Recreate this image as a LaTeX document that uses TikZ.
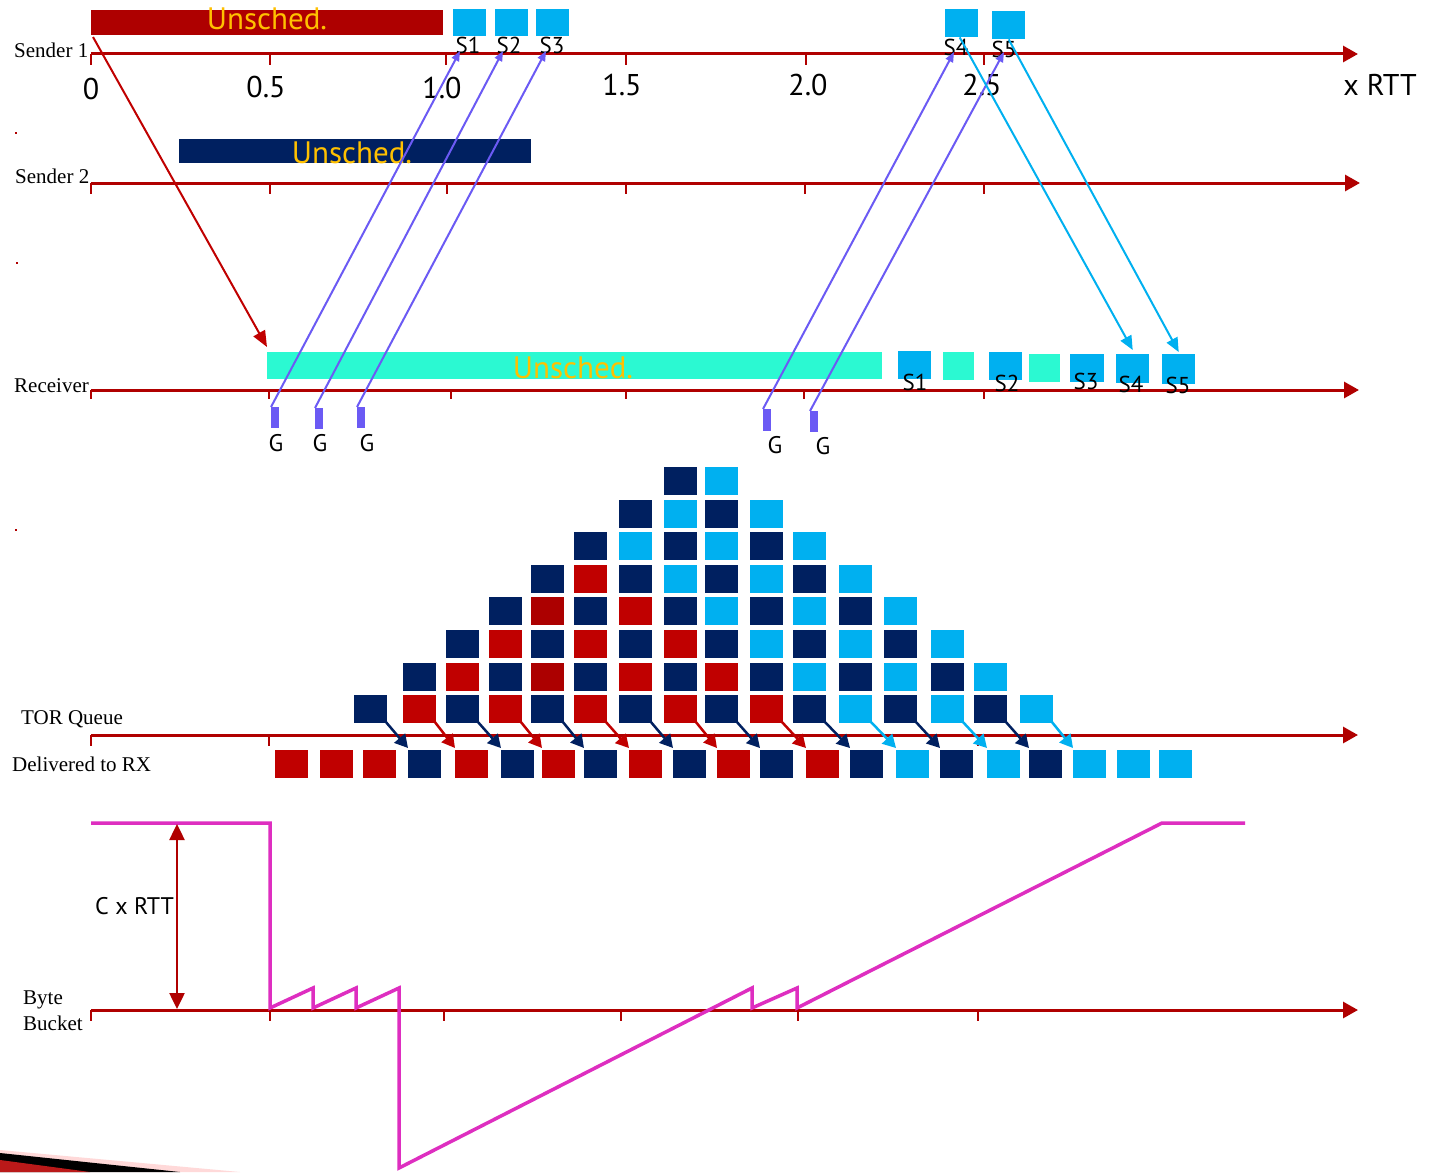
\documentclass[tikz,border=0pt]{standalone}
\usepackage{fontspec}
\setmainfont{Liberation Serif}
\newfontfamily\ptsans{PT Sans}
\usetikzlibrary{arrows.meta}
\definecolor{axred}{HTML}{B00000}
\definecolor{barred}{HTML}{AE0000}
\definecolor{cN}{HTML}{002060}
\definecolor{cR}{HTML}{C00000}
\definecolor{cD}{HTML}{AC0000}
\definecolor{cL}{HTML}{00B0F0}
\definecolor{cT}{HTML}{2BF9D2}
\definecolor{gold}{HTML}{FFC000}
\definecolor{purp}{HTML}{6B5AF4}
\definecolor{mag}{HTML}{DE2EC0}
\tikzset{
  sq/.style={rectangle, inner sep=0pt, minimum width=33pt, minimum height=28pt, anchor=north west},
  axisline/.style={draw=axred, line width=3pt, -{Triangle[length=15pt,width=16pt]}},
  tickmark/.style={draw=axred, line width=2pt},
  lane/.style={font=\fontsize{21}{23}\selectfont, anchor=base west, inner sep=0pt},
  tlab/.style={font=\ptsans\fontsize{30}{32}\selectfont, anchor=base, inner sep=0pt},
  unsched/.style={font=\ptsans\fontsize{31}{33}\selectfont, text=gold, anchor=base, inner sep=0pt},
  slab/.style={font=\ptsans\fontsize{23}{25}\selectfont, anchor=base, inner sep=0pt},
  glab/.style={font=\ptsans\fontsize{24}{26}\selectfont, anchor=base, inner sep=0pt},
  gblk/.style={rectangle, inner sep=0pt, fill=purp, minimum width=8pt, minimum height=21pt, anchor=north west},
  grant/.style={draw=purp, line width=2pt, -{Triangle[length=10pt,width=8pt]}},
  sched/.style={draw=cL, line width=2pt, -{Triangle[length=14pt,width=12pt]}},
  qarr/.style={line width=2.5pt, -{Triangle[length=13pt,width=14pt]}},
}
\begin{document}
\begin{tikzpicture}[x=1pt,y=-1pt]
\useasboundingbox (0,0) rectangle (1434,1172);
\fill[white] (0,0) rectangle (1434,1172);

% slide decoration and specks
\fill[red!15] (0,1150) -- (240,1172) -- (0,1172) -- cycle;
\fill[black] (0,1153) -- (180,1172) -- (0,1172) -- cycle;
\fill[red!70!black!90] (0,1160) -- (90,1172) -- (0,1172) -- cycle;
\fill[axred] (15,132) rectangle (17,134);
\fill[axred] (16,262) rectangle (18,264);
\fill[axred] (15,529) rectangle (17,531);

% ---------- axes ----------
\coordinate (s1a) at (91,54);   \coordinate (s1b) at (1358,54);
\coordinate (s2a) at (91,183);  \coordinate (s2b) at (1360,183);
\coordinate (ra)  at (91,390);  \coordinate (rb)  at (1359,390);
\coordinate (ta)  at (91,735);  \coordinate (tb)  at (1358,735);
\coordinate (ba)  at (91,1010); \coordinate (bb)  at (1358,1010);
\draw[axisline] (s1a) -- (s1b);
\draw[axisline] (s2a) -- (s2b);
\draw[axisline] (ra) -- (rb);
\draw[axisline] (ta) -- (tb);
\draw[axisline] (ba) -- (bb);
\foreach \x in {91,270,446,626,806,984} \draw[tickmark] (\x,54) -- (\x,65);
\foreach \x in {91,270,447,626,805,984} \draw[tickmark] (\x,183) -- (\x,194);
\foreach \x in {91,269,451,626,804,984} \draw[tickmark] (\x,390) -- (\x,399);
\foreach \x in {91,269,978} \draw[tickmark] (\x,735) -- (\x,746);
\foreach \x in {91,270,444,621,798,978} \draw[tickmark] (\x,1010) -- (\x,1021);

% lane labels
\node[lane] (l1) at (14,57) {Sender 1};
\node[lane] (l2) at (15,183) {Sender 2};
\node[lane] (l3) at (14,392) {Receiver};
\node[lane] (l4) at (21,724) {TOR Queue};
\node[lane] (l5) at (12,771) {Delivered to RX};
\node[lane] (l6) at (23,1004) {Byte};
\node[lane] (l7) at (23,1030) {Bucket};

% tick labels
\node[tlab] (x0) at (91,99) {0};
\node[tlab] (x1) at (266,97) {0.5};
\node[tlab] (x2) at (442,98) {1.0};
\node[tlab] (x3) at (622,95) {1.5};
\node[tlab] (x4) at (808,95) {2.0};
\node[tlab] (x5) at (982,95) {2.5};
\node[tlab] (xr) at (1380,95) {x RTT};

% ---------- bars ----------
\node[rectangle, inner sep=0pt, fill=barred, minimum width=352pt, minimum height=25pt, anchor=north west] (ub1) at (91,10) {};
\node[rectangle, inner sep=0pt, fill=cN, minimum width=352pt, minimum height=24pt, anchor=north west] (ub2) at (179,139) {};
\node[rectangle, inner sep=0pt, fill=cT, minimum width=615pt, minimum height=27pt, anchor=north west] (ub3) at (267,352) {};
\node[unsched] (u1) at (267,30) {Unsched.};
\node[unsched] (u2) at (352,163) {Unsched.};
\node[unsched] (u3) at (573,378) {Unsched.};

% sender 1 scheduled packets
\node[sq, fill=cL, minimum height=27pt] (ss1) at (453,9) {};
\node[sq, fill=cL, minimum height=27pt] (ss2) at (495,9) {};
\node[sq, fill=cL, minimum height=27pt] (ss3) at (536,9) {};
\node[sq, fill=cL] (ss4) at (945,9) {};
\node[sq, fill=cL] (ss5) at (992,11) {};
\node[slab] (sl1) at (468,54) {S1};
\node[slab] (sl2) at (509,54) {S2};
\node[slab] (sl3) at (552,54) {S3};
\node[slab] (sl4) at (956,56) {S4};
\node[slab] (sl5) at (1004,57) {S5};

% receiver packets
\node[sq, fill=cL] (rs1) at (898,351) {};
\node[sq, fill=cT, minimum width=31pt] (rt1) at (943,352) {};
\node[sq, fill=cL] (rs2) at (989,352) {};
\node[sq, fill=cT, minimum width=31pt] (rt2) at (1029,354) {};
\node[sq, fill=cL, minimum width=34pt] (rs3) at (1070,354) {};
\node[sq, fill=cL, minimum height=29pt] (rs4) at (1116,354) {};
\node[sq, fill=cL, minimum height=30pt] (rs5) at (1162,354) {};
\node[slab] (rl1) at (915,390) {S1};
\node[slab] (rl2) at (1007,391) {S2};
\node[slab] (rl3) at (1086,389) {S3};
\node[slab] (rl4) at (1131,392) {S4};
\node[slab] (rl5) at (1178,393) {S5};

% grants
\node[gblk] (g1) at (271,407) {};
\node[gblk] (g2) at (315,408) {};
\node[gblk] (g3) at (357,407) {};
\node[gblk, minimum height=22pt] (g4) at (763,409) {};
\node[gblk] (g5) at (810,411) {};
\node[glab] (gl1) at (276,451) {G};
\node[glab] (gl2) at (320,451) {G};
\node[glab] (gl3) at (367,451) {G};
\node[glab] (gl4) at (775,453) {G};
\node[glab] (gl5) at (823,454) {G};
\coordinate (t1) at (460,51);
\coordinate (t2) at (503,51);
\coordinate (t3) at (546,51);
\coordinate (t4) at (954,52);
\coordinate (t5) at (1004,52);
\draw[grant] (g1.north west) -- (t1);
\draw[grant] (g2.north west) -- (t2);
\draw[grant] (g3.north west) -- (t3);
\draw[grant] (g4.north west) -- (t4);
\draw[grant] (g5.north west) -- (t5);

% scheduled data to receiver
\draw[sched] ([xshift=-2pt]ss4.south) -- ([yshift=4pt]rs4.north);
\draw[sched] (ss5.south) -- ([yshift=2pt]rs5.north);

% unscheduled from sender 1
\coordinate (ustart) at (93,37);
\draw[draw=cR, line width=2pt, -{Triangle[length=16pt,width=13pt]}] (ustart) -- ([yshift=5pt]ub3.north west);

% ---------- TOR queue pyramid ----------
\foreach \cx/\cl [count=\ci] in {354/{N}, 403/{R,N}, 446/{N,R,N}, 489/{R,N,R,N},
    531/{N,D,N,D,N}, 574/{R,N,R,N,R,N}, 619/{N,R,N,R,N,L,N}, 664/{R,N,R,N,L,N,L,N},
    705/{N,R,N,L,N,L,N,L}, 750/{R,N,L,N,L,N,L}, 793/{N,L,N,L,N,L}, 839/{L,N,L,N,L},
    884/{N,L,N,L}, 931/{L,N,L}, 974/{N,L}, 1020/{L}}{
  \foreach \c [count=\ri] in \cl {
    \node[sq, fill=c\c] (q\ci-\ri) at (\cx, {695-(\ri-1)*32.6}) {};
  }
}

% delivered
\foreach \x/\c [count=\i] in {275/R,320/R,363/R,408/N,455/R,501/N,542/R,584/N,629/R,673/N,
    717/R,760/N,806/R,850/N,896/L,940/N,987/L,1029/N,1073/L,1117/L,1159/L}{
  \node[sq, fill=c\c] (d\i) at (\x,750) {};
}

\foreach \i/\c in {1/N,2/R,3/N,4/R,5/N,6/R,7/N,8/R,9/N,10/R,11/N,12/L,13/N,14/L,15/N,16/L}{
  \pgfmathtruncatemacro{\j}{\i+3}
  \draw[qarr, color=c\c] ([xshift=-2pt,yshift=2pt]q\i-1.south east) -- ([yshift=2pt]d\j.north west);
}

% ---------- byte bucket ----------
\draw[mag, line width=3.5pt, line join=miter]
  (91,823) -- (270,823) -- (270,1008) -- (313,988) -- (313,1008) -- (356,988) -- (356,1008)
  -- (399,988) -- (399,1168) -- (752,988) -- (752,1008) -- (797,988) -- (797,1008)
  -- (1162,823) -- (1245,823);
\coordinate (ca) at (177,824);
\coordinate (cb) at (177,1009);
\draw[draw=axred, line width=2.5pt, {Triangle[length=16pt,width=15pt]}-{Triangle[length=16pt,width=15pt]}] (ca) -- (cb);
\node[font=\ptsans\fontsize{24}{26}\selectfont, anchor=base west, inner sep=0pt] (crtt) at (95,914) {C x RTT};
\end{tikzpicture}
\end{document}
